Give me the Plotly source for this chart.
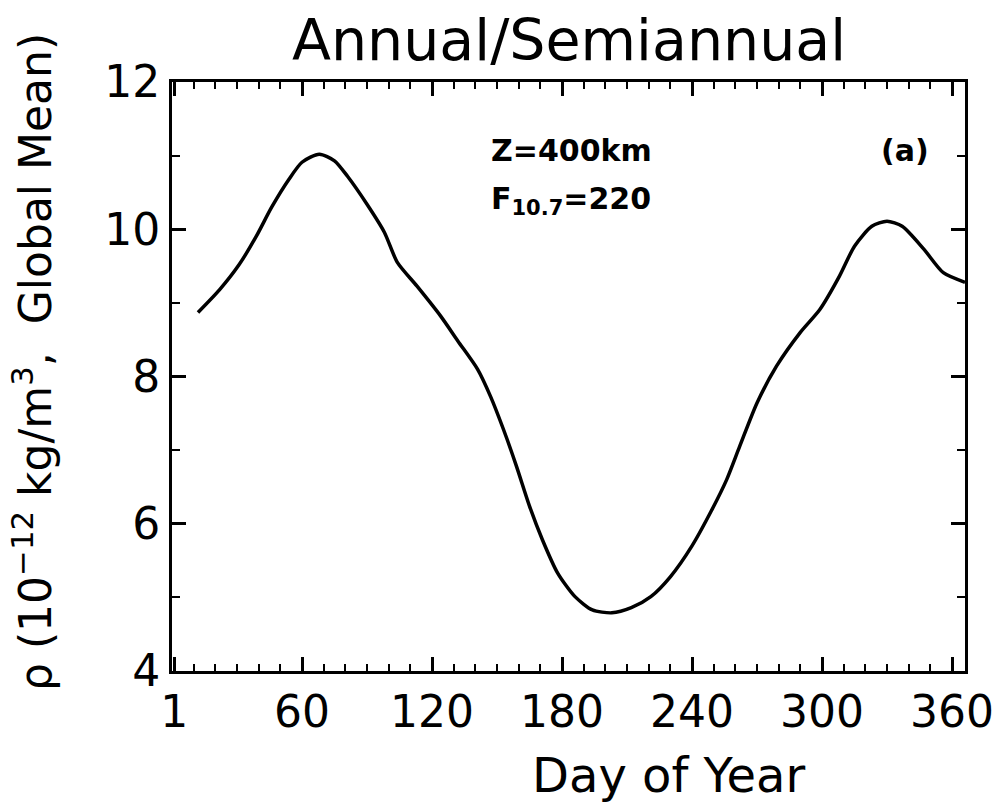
import plotly.graph_objects as go

# Data
days = [12, 22, 31, 39, 46, 54, 60, 68, 75, 81, 90, 98, 104, 113, 124, 132,
        141, 147, 153, 159, 165, 171, 178, 186, 194, 203, 212, 221, 230, 240,
        249, 256, 262, 270, 279, 290, 299, 308, 315, 323, 330, 337, 347, 356, 366]
rho = [8.87, 9.18, 9.52, 9.91, 10.30, 10.68, 10.91, 11.02, 10.93, 10.72, 10.34,
       9.96, 9.55, 9.23, 8.82, 8.48, 8.10, 7.73, 7.28, 6.78, 6.24, 5.78, 5.33,
       5.01, 4.83, 4.79, 4.86, 5.01, 5.28, 5.70, 6.18, 6.60, 7.05, 7.64, 8.14,
       8.60, 8.91, 9.36, 9.77, 10.04, 10.11, 10.04, 9.73, 9.41, 9.28]

x_ticks = [1, 60, 120, 180, 240, 300, 360]
x_ticklabels = ["1", "60", "120", "180", "240", "300", "360"]
y_ticks = [4, 6, 8, 10, 12]

FONT = "DejaVu Sans"

fig = go.Figure()
fig.add_trace(go.Scatter(
    x=days, y=rho, mode="lines",
    line=dict(color="black", width=3.5, shape="spline", smoothing=0.7),
    showlegend=False, hoverinfo="skip",
))

axis_common = dict(
    showgrid=False, zeroline=False,
    showline=True, linecolor="black", linewidth=3,
    mirror="allticks", ticks="inside", tickcolor="black", tickwidth=2.5,
    ticklen=14,
    tickfont=dict(family=FONT, size=44, color="black"),
)

fig.update_layout(
    width=1006, height=805,
    margin=dict(l=172, r=32, t=82, b=134),
    paper_bgcolor="white", plot_bgcolor="white",
    font=dict(family=FONT, color="black"),
    xaxis=dict(
        range=[0, 366], tickmode="array", tickvals=x_ticks, ticktext=x_ticklabels,
        minor=dict(dtick=10, tick0=0, ticks="inside", ticklen=7,
                   tickcolor="black", tickwidth=2),
        **axis_common,
    ),
    yaxis=dict(
        range=[4, 12], tickmode="array", tickvals=y_ticks,
        minor=dict(dtick=1, tick0=4, ticks="inside", ticklen=8,
                   tickcolor="black", tickwidth=2),
        **axis_common,
    ),
    annotations=[
        dict(text="Annual/Semiannual", xref="paper", yref="paper",
             x=0.5, y=1.0, yshift=42, xanchor="center", yanchor="middle",
             showarrow=False, font=dict(family=FONT, size=57, color="black")),
        dict(text="Day of Year", xref="paper", yref="paper",
             x=(674 - 172) / 802, y=0, yshift=-104, xanchor="center", yanchor="middle",
             showarrow=False, font=dict(family=FONT, size=48, color="black")),
        dict(text="ρ (10<sup>−12</sup> kg/m<sup>3</sup>,  Global Mean)",
             xref="paper", yref="paper", x=0, xshift=-140, y=(671 - 362) / 589,
             xanchor="center", yanchor="middle", textangle=-90,
             showarrow=False, font=dict(family=FONT, size=44, color="black")),
        dict(text="<b>Z=400km</b>", xref="paper", yref="paper",
             x=(493 - 172) / 802, y=(671 - 150) / 589, xanchor="left", yanchor="middle",
             showarrow=False, font=dict(family=FONT, size=30, color="black")),
        dict(text="<b>F<sub>10.7</sub>=220</b>", xref="paper", yref="paper",
             x=(493 - 172) / 802, y=(671 - 200) / 589, xanchor="left", yanchor="middle",
             showarrow=False, font=dict(family=FONT, size=30, color="black")),
        dict(text="<b>(a)</b>", xref="paper", yref="paper",
             x=(913 - 172) / 802, y=(671 - 150) / 589, xanchor="center", yanchor="middle",
             showarrow=False, font=dict(family=FONT, size=30, color="black")),
    ],
)

fig.write_html("out.html")
